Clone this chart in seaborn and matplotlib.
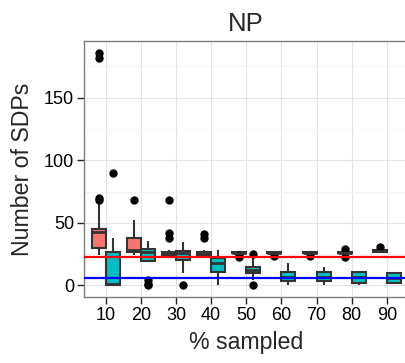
import matplotlib
matplotlib.use("Agg")
import matplotlib.pyplot as plt
import seaborn as sns
import pandas as pd

pct = ["10", "20", "30", "40", "50", "60", "70", "80", "90"]
groups = ["full", "subset"]

# red group box statistics
red_lo = [24, 24, 24, 24, 26, 25, 25, 25, 26.5]
red_q1 = [30, 27, 24.5, 24.5, 26, 25.5, 25.5, 25.5, 27]
red_med = [43, 28.5, 25.5, 25.5, 26, 26, 26, 26, 27.5]
red_q3 = [45, 38, 27, 27, 27, 26.5, 26.5, 26.5, 28]
red_hi = [66, 52, 28, 28, 27, 27, 27, 27, 28.5]
red_fliers = [[68, 70, 182, 186], [68], [38, 42, 68], [38, 41], [23, 24],
              [23.5], [23.5], [23, 29], [30.5]]

# teal group box statistics
teal_lo = [0, 4, 9.5, 0, 4.5, 0.5, 0.5, 0.5, 1]
teal_q1 = [0, 19.5, 20, 11, 9.5, 3.5, 3.5, 2, 1.5]
teal_med = [1, 27, 26, 17.5, 12.5, 7, 6.5, 7, 5.5]
teal_q3 = [26.5, 29, 27.5, 22, 15, 10.5, 10.5, 10.5, 9.8]
teal_hi = [38, 35.5, 34.5, 28.5, 21.5, 17.5, 15, 11.5, 11]
teal_fliers = [[90], [0, 1], [0], [], [0, 25], [], [], [], []]

red_line = 23
blue_line = 6

rows = []
def add(group, lo, q1, med, q3, hi, fl):
    for i, p in enumerate(pct):
        vals = [lo[i]] + [q1[i]] * 10 + [med[i]] * 10 + [q3[i]] * 10 + [hi[i]] + fl[i]
        for v in vals:
            rows.append({"pct": p, "group": group, "n": v})

add("full", red_lo, red_q1, red_med, red_q3, red_hi, red_fliers)
add("subset", teal_lo, teal_q1, teal_med, teal_q3, teal_hi, teal_fliers)
df = pd.DataFrame(rows)

sns.set_style("white")
plt.rcParams["font.family"] = ["Liberation Sans", "DejaVu Sans"]

fig = plt.figure(figsize=(4.06, 3.63), dpi=100)
ax = fig.add_axes([84.5 / 406, 1 - 297 / 363, (408 - 84.5) / 406, (297 - 41) / 363])

sns.boxplot(data=df, x="pct", y="n", hue="group", order=pct, hue_order=groups,
            palette=["#F8766D", "#00BFC4"], saturation=1, width=0.8, gap=0,
            linecolor="#333333", linewidth=1.5, showcaps=False, ax=ax, legend=False,
            flierprops=dict(marker="o", markerfacecolor="black",
                            markeredgecolor="black", markersize=5),
            medianprops=dict(color="#333333", linewidth=2))

ax.axhline(red_line, color="#FF0000", lw=1.6, zorder=5)
ax.axhline(blue_line, color="#0000FF", lw=1.6, zorder=5)

ax.set_xlim(-0.6, 8.6)
ax.set_ylim(-9.3, 195.3)
ax.set_yticks([0, 50, 100, 150])
ax.set_yticks([25, 75, 125, 175], minor=True)
ax.grid(True, which="major", color="#E3E3E3", lw=0.8)
ax.grid(True, which="minor", axis="y", color="#F3F3F3", lw=0.8)
ax.set_axisbelow(True)
for s in ax.spines.values():
    s.set_color("#7F7F7F")
    s.set_linewidth(1.0)

ax.tick_params(axis="both", which="major", length=5, width=1, color="#222222",
               labelsize=13, labelcolor="black", pad=2.5, bottom=True, left=True)
ax.tick_params(axis="both", which="minor", length=0)
ax.set_xlabel("% sampled", fontsize=16.7, labelpad=5)
ax.set_ylabel("Number of SDPs", fontsize=16.7, labelpad=7)
ax.set_title("NP", fontsize=18.5, pad=7)

fig.savefig("out.png", dpi=100)
